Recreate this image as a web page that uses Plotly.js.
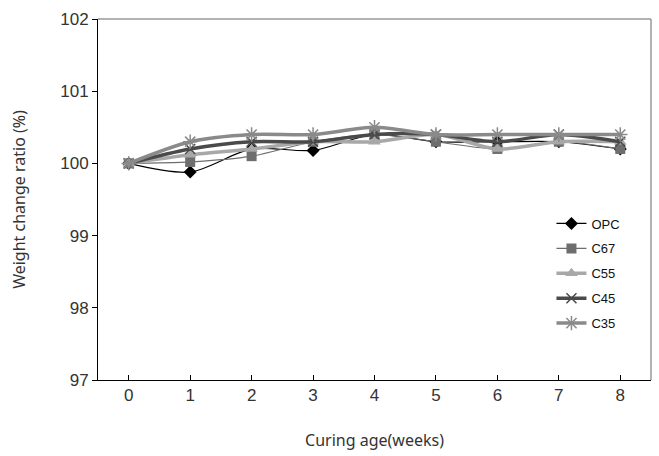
<!DOCTYPE html>
<html>
<head>
<meta charset="utf-8">
<script src="https://cdn.plot.ly/plotly-3.0.1.min.js"></script>
<style>html,body{margin:0;padding:0;background:#fff;}#chart{width:659px;height:456px;}</style>
</head>
<body>
<div id="chart"></div>
<script>
const weeks = [0, 1, 2, 3, 4, 5, 6, 7, 8];
const seriesNames = ["OPC", "C67", "C55", "C45", "C35"];
const OPC = [100.0, 99.88, 100.2, 100.18, 100.4, 100.3, 100.3, 100.3, 100.2];
const C67 = [100.0, 100.02, 100.1, 100.3, 100.4, 100.3, 100.2, 100.3, 100.2];
const C55 = [100.0, 100.12, 100.2, 100.3, 100.3, 100.4, 100.2, 100.3, 100.3];
const C45 = [100.0, 100.2, 100.3, 100.3, 100.4, 100.4, 100.3, 100.4, 100.3];
const C35 = [100.0, 100.3, 100.4, 100.4, 100.5, 100.4, 100.4, 100.4, 100.4];
const yTicks = [97, 98, 99, 100, 101, 102];

const styles = [
  {color: "#000000", width: 1.2, symbol: "diamond", size: 10, mcolor: "#000000"},
  {color: "#6e6e6e", width: 1.2, symbol: "square", size: 10, mcolor: "#6e6e6e"},
  {color: "#a8a8a8", width: 3.5, symbol: "triangle-up", size: 11, mcolor: "#a8a8a8"},
  {color: "#4a4a4a", width: 3.5, symbol: "x-thin-open", size: 10, mcolor: "#4a4a4a"},
  {color: "#8a8a8a", width: 3.5, symbol: "asterisk-open", size: 12, mcolor: "#8a8a8a"}
];
const values = [OPC, C67, C55, C45, C35];

const traces = values.map((v, i) => ({
  x: weeks, y: v, name: seriesNames[i], type: "scatter", mode: "lines+markers",
  legendgroup: "g" + i,
  line: {color: styles[i].color, width: styles[i].width, shape: "spline", smoothing: 0.8},
  marker: {symbol: styles[i].symbol, size: styles[i].size, color: styles[i].mcolor,
           line: {color: styles[i].mcolor, width: (i >= 3 ? 1.5 : 0)}}
}));

const layout = {
  width: 659, height: 456,
  margin: {l: 98, r: 8, t: 19, b: 76},
  paper_bgcolor: "#fff", plot_bgcolor: "#fff",
  showlegend: true,
  legend: {x: 0.82, y: 0.475, xanchor: "left", yanchor: "top",
           font: {family: "Liberation Sans", size: 13, color: "#111"},
           tracegroupgap: 5, itemwidth: 30, bgcolor: "rgba(0,0,0,0)"},
  xaxis: {range: [-0.5, 8.5], tickvals: weeks, ticktext: weeks.map(String),
          showgrid: false, zeroline: false, showline: true, linecolor: "#000", linewidth: 1,
          ticks: "inside", ticklen: 5, tickcolor: "#000",
          tickfont: {family: "Liberation Sans", size: 17, color: "#333"},
          title: {text: "Curing age(weeks)", font: {family: "Noto Sans", size: 16, color: "#333"}, standoff: 30}},
  yaxis: {range: [97, 102], tickvals: yTicks, ticktext: yTicks.map(String),
          showgrid: false, zeroline: false, showline: true, linecolor: "#000", linewidth: 1,
          ticks: "outside", ticklen: 5, tickcolor: "#000",
          tickfont: {family: "Liberation Sans", size: 17, color: "#333"},
          title: {text: "Weight change ratio (%)", font: {family: "Noto Sans", size: 16, color: "#333"}, standoff: 30}},
  shapes: [
    {type: "line", xref: "paper", yref: "paper", x0: 0, x1: 1, y0: 1, y1: 1, line: {color: "#999", width: 1.5}},
    {type: "line", xref: "paper", yref: "paper", x0: 1, x1: 1, y0: 0, y1: 1, line: {color: "#999", width: 1.5}}
  ]
};

Plotly.newPlot("chart", traces, layout, {displayModeBar: false, staticPlot: true});
</script>
</body>
</html>
